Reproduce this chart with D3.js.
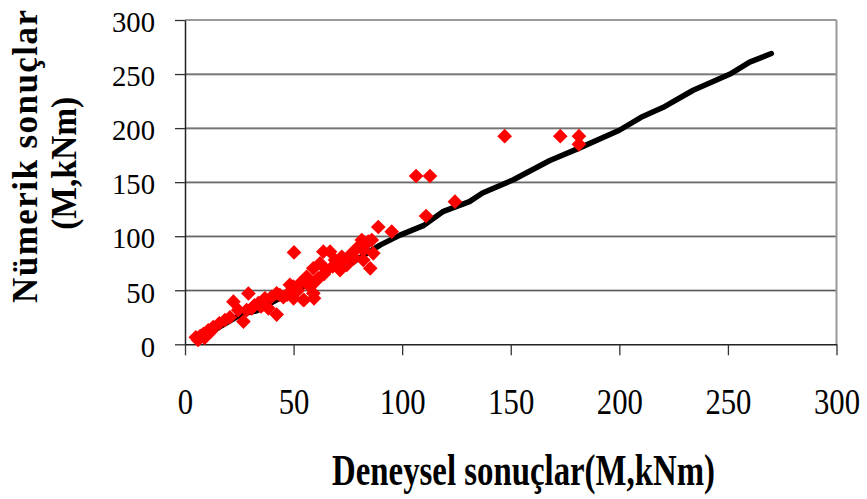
<!DOCTYPE html>
<html>
<head>
<meta charset="utf-8">
<script src="https://cdn.jsdelivr.net/npm/d3@7"></script>
<style>
  body { margin: 0; background: #fff; }
  svg { display: block; }
  text { font-family: "Liberation Serif", "Times New Roman", serif; fill: #000; }
</style>
</head>
<body>
<svg id="chart" width="867" height="499"></svg>
<script>
// axis ticks
const xTicks = [0, 50, 100, 150, 200, 250, 300];
const yTicks = [0, 50, 100, 150, 200, 250, 300];

// numeric model line (experimental vs numeric)
const lineX = [5, 15, 26, 33, 42, 53, 60, 67, 75, 82, 90, 99, 110, 119, 131, 137, 151, 168, 181, 200, 210, 220, 234, 251, 260, 270];
const lineY = [5, 15, 28, 31, 41, 52, 60, 71, 73, 82, 92, 101, 110, 123, 132, 140, 152, 170, 181, 198, 210, 219, 235, 250, 261, 269];

// measured points (red diamonds)
const pointX = [6, 5, 7, 9, 8.4, 10.7, 12, 13, 15.8, 18.4, 20.7, 22.3, 24.5, 26.9, 28.4, 29.2, 30.7, 32, 33.8, 35, 36, 36.8,
  38.4, 39.9, 42.2, 42.2, 43.7, 45.3, 47, 48.3, 50.2, 49.9, 50, 52, 53, 54.5, 54.8, 56, 57.6, 59.1, 59.4, 59.1, 60, 61.4,
  62.2, 63.7, 64, 65.2, 66.8, 68, 69.1, 70, 71.4, 72.2, 74.5, 76, 78, 79.1, 81.4, 82.1, 82.1, 83.6, 84.4, 85.3, 86, 86.7,
  89, 95.2, 106.4, 111, 112.8, 124.3, 147.2, 172.8, 181.4, 181.4];
const pointY = [4, 6.5, 7.7, 6, 9.5, 13, 12, 16, 19.4, 22.5, 25, 39.4, 31.7, 21, 31.7, 47, 33.3, 36, 38, 35, 37, 42.5,
  33.3, 44, 27.5, 47.2, 45.6, 43.5, 46, 55, 85, 53.3, 42.5, 50, 56.4, 41, 41, 62.5, 53.3, 47.2, 42.5, 70.3, 58, 61,
  75, 85.7, 65, 68.7, 85.7, 72, 78, 76, 68.7, 81, 73.4, 82.6, 80, 88.8, 96.5, 78, 87.2, 93.4, 95, 70.3, 96.5, 84.2,
  108.5, 104.2, 155.7, 118.7, 155.7, 131.9, 192.5, 192.5, 192.5, 185];

const xTitle = 'Deneysel sonuçlar(M,kNm)';
const yTitle = ['Nümerik sonuçlar', '(M,kNm)'];

const plotLeft = 185, plotRight = 836.5, plotTop = 20, plotBottom = 344.3;

const svg = d3.select('#chart');

const x = d3.scaleLinear().domain([0, 300]).range([plotLeft, plotRight]);
const y = d3.scaleLinear().domain([0, 300]).range([plotBottom, plotTop]);

// gridlines (dark line with a light shadow under it)
const inner = yTicks.filter(d => d > 0 && d < 300);
const grid = svg.append('g');
grid.selectAll('line.shade')
  .data(inner)
  .join('line')
  .attr('class', 'shade')
  .attr('x1', plotLeft).attr('x2', plotRight)
  .attr('y1', d => y(d) + 1).attr('y2', d => y(d) + 1)
  .attr('stroke', '#b0b0b0').attr('stroke-width', 1);
grid.selectAll('line.main')
  .data(inner)
  .join('line')
  .attr('class', 'main')
  .attr('x1', plotLeft).attr('x2', plotRight)
  .attr('y1', d => y(d)).attr('y2', d => y(d))
  .attr('stroke', '#2a2a2a').attr('stroke-width', 1);

// plot frame, top and right in grey
svg.append('line')
  .attr('x1', plotLeft).attr('x2', plotRight).attr('y1', y(300)).attr('y2', y(300))
  .attr('stroke', '#9a9a9a').attr('stroke-width', 2);
svg.append('line')
  .attr('x1', plotRight).attr('x2', plotRight).attr('y1', y(300)).attr('y2', y(0))
  .attr('stroke', '#9a9a9a').attr('stroke-width', 2);

// x axis
const xAxis = svg.append('g')
  .attr('transform', `translate(0,${plotBottom})`)
  .call(d3.axisBottom(x).tickValues(xTicks).tickSize(11).tickSizeOuter(0));
xAxis.select('.domain').attr('stroke', '#222').attr('stroke-width', 1.5);
xAxis.selectAll('.tick line').attr('stroke', '#333').attr('stroke-width', 1.3);
xAxis.selectAll('.tick text')
  .attr('y', 0).attr('dy', 0)
  .attr('transform', 'translate(0,70) scale(1,1.19)')
  .style('font-size', '30.7px');

// y axis
const yAxis = svg.append('g')
  .attr('transform', `translate(${plotLeft},0)`)
  .call(d3.axisLeft(y).tickValues(yTicks).tickSize(10).tickSizeOuter(0));
yAxis.select('.domain').attr('stroke', '#222').attr('stroke-width', 1.5);
yAxis.selectAll('.tick line').attr('stroke', '#333').attr('stroke-width', 1.3);
yAxis.selectAll('.tick text')
  .attr('x', -30).attr('dy', '0.41em')
  .style('font-size', '28.7px');
xAxis.selectAll('text').attr('fill', '#000');
yAxis.selectAll('text').attr('fill', '#000');

// model line
const lineData = lineX.map((v, i) => [v, lineY[i]]);
svg.append('path')
  .datum(lineData)
  .attr('fill', 'none')
  .attr('stroke', '#000')
  .attr('stroke-width', 5.5)
  .attr('stroke-linecap', 'round')
  .attr('stroke-linejoin', 'round')
  .attr('d', d3.line().x(d => x(d[0])).y(d => y(d[1])));

// diamonds
const pts = pointX.map((v, i) => ({ x: v, y: pointY[i] }));
svg.append('g')
  .selectAll('path')
  .data(pts)
  .join('path')
  .attr('d', d3.symbol().type(d3.symbolSquare).size(108))
  .attr('transform', d => `translate(${x(d.x)},${y(d.y)}) rotate(45)`)
  .attr('fill', '#ff0000');

// axis titles
svg.append('text')
  .attr('transform', 'translate(523.5,485) scale(1,1.33)')
  .attr('text-anchor', 'middle')
  .attr('textLength', 383)
  .attr('lengthAdjust', 'spacingAndGlyphs')
  .style('font-size', '33px')
  .style('font-weight', 'bold')
  .text(xTitle);

svg.append('text')
  .attr('transform', 'translate(36.7,156.5) rotate(-90)')
  .attr('text-anchor', 'middle')
  .attr('textLength', 293)
  .style('font-size', '35px')
  .style('font-weight', 'bold')
  .text(yTitle[0]);
svg.append('text')
  .attr('transform', 'translate(76,163.3) rotate(-90)')
  .attr('text-anchor', 'middle')
  .attr('textLength', 133)
  .attr('lengthAdjust', 'spacingAndGlyphs')
  .style('font-size', '35px')
  .style('font-weight', 'bold')
  .text(yTitle[1]);
</script>
</body>
</html>
